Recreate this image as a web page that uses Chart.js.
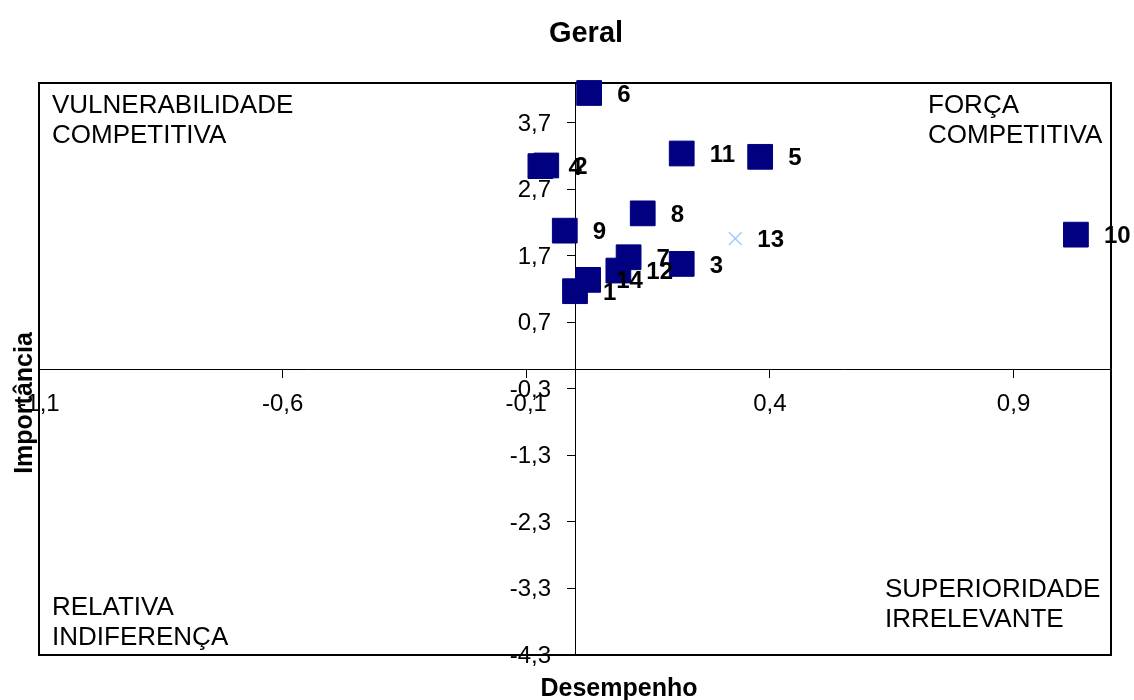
<!DOCTYPE html>
<html>
<head>
<meta charset="utf-8">
<title>Geral</title>
<script src="https://cdn.jsdelivr.net/npm/chart.js@4.4.1/dist/chart.umd.min.js"></script>
<style>
  html, body { margin: 0; padding: 0; background: #fff; }
</style>
</head>
<body>
<canvas id="mapa" width="1134" height="700"></canvas>
<script>
// atributos avaliados: numero, desempenho (eixo x) e importancia (eixo y)
const pontos = ['1', '2', '3', '4', '5', '6', '7', '8', '9', '10', '11', '12', '14'];
const desempenho = [0.00, -0.059, 0.219, -0.071, 0.380, 0.029, 0.110, 0.139, -0.021, 1.028, 0.219, 0.089, 0.027];
const importancia = [1.17, 3.06, 1.58, 3.05, 3.19, 4.15, 1.68, 2.34, 2.08, 2.02, 3.24, 1.48, 1.34];

// o atributo 13 aparece com outro marcador
const pontos13 = ['13'];
const desempenho13 = [0.329];
const importancia13 = [1.96];

const xTicks = [-1.1, -0.6, -0.1, 0.4, 0.9];
const yTicks = [-4.3, -3.3, -2.3, -1.3, -0.3, 0.7, 1.7, 2.7, 3.7];

const quadrantes = {
  topoEsq: ['VULNERABILIDADE', 'COMPETITIVA'],
  topoDir: ['FORÇA', 'COMPETITIVA'],
  baixoEsq: ['RELATIVA', 'INDIFERENÇA'],
  baixoDir: ['SUPERIORIDADE', 'IRRELEVANTE']
};

const FONTE = "'Liberation Sans', Arial, sans-serif";
Chart.defaults.font.family = FONTE;
Chart.defaults.color = '#000';

const virgula = v => Number(v).toFixed(1).replace('.', ',');

// borda da area do grafico (antes dos pontos, o 6 fica por cima)
const borda = {
  id: 'borda',
  beforeDatasetsDraw(chart) {
    const { ctx, chartArea: a } = chart;
    ctx.save();
    ctx.lineWidth = 2;
    ctx.strokeStyle = '#000';
    ctx.strokeRect(a.left, a.top, a.right - a.left, a.bottom - a.top);
    ctx.restore();
  }
};

// numeros ao lado dos pontos, titulos, textos dos quadrantes
// e rotulos do eixo y (o chart.js os cola no eixo quando ele fica no zero)
const textos = {
  id: 'textos',
  afterDatasetsDraw(chart) {
    const { ctx, chartArea: a, scales } = chart;
    ctx.save();

    ctx.fillStyle = '#000';
    ctx.font = 'bold 24px ' + FONTE;
    ctx.textAlign = 'left';
    ctx.textBaseline = 'middle';
    chart.data.datasets.forEach((ds, i) => {
      const meta = chart.getDatasetMeta(i);
      meta.data.forEach((pt, j) => {
        ctx.fillText(ds.rotulos[j], pt.x + ds.distRotulo, pt.y + 2);
      });
    });

    // rotulos do eixo y, a esquerda dos tracos
    const eixoX = scales.x.getPixelForValue(0);
    ctx.font = '24px ' + FONTE;
    ctx.textAlign = 'right';
    yTicks.forEach(v => {
      ctx.fillText(virgula(v), eixoX - 24, scales.y.getPixelForValue(v) + 1);
    });

    ctx.textAlign = 'left';
    ctx.font = '26px ' + FONTE;
    ctx.textBaseline = 'alphabetic';
    const linhas = (txt, x, y) => txt.forEach((t, k) => ctx.fillText(t, x, y + k * 30));
    linhas(quadrantes.topoEsq, a.left + 13, a.top + 30);
    linhas(quadrantes.topoDir, a.right - 183, a.top + 30);
    linhas(quadrantes.baixoEsq, a.left + 13, a.bottom - 40);
    linhas(quadrantes.baixoDir, a.right - 226, a.bottom - 58);

    ctx.textAlign = 'center';
    ctx.font = 'bold 29px ' + FONTE;
    ctx.fillText('Geral', 586, 42);

    ctx.font = 'bold 25px ' + FONTE;
    ctx.fillText('Desempenho', 619, 696);

    ctx.translate(31.5, 403);
    ctx.rotate(-Math.PI / 2);
    ctx.fillText('Importância', 0, 0);
    ctx.restore();
  }
};

const ctx = document.getElementById('mapa').getContext('2d');
new Chart(ctx, {
  type: 'scatter',
  data: {
    datasets: [
      {
        label: 'Atributos',
        data: desempenho.map((x, i) => ({ x: x, y: importancia[i] })),
        rotulos: pontos,
        distRotulo: 28,
        pointStyle: 'rect',
        pointRadius: 17.5,
        backgroundColor: '#000080',
        borderColor: '#000080',
        borderWidth: 1,
        clip: false
      },
      {
        label: 'Atributo 13',
        data: desempenho13.map((x, i) => ({ x: x, y: importancia13[i] })),
        rotulos: pontos13,
        distRotulo: 22,
        pointStyle: 'crossRot',
        pointRadius: 9,
        borderColor: '#99ccff',
        backgroundColor: '#99ccff',
        borderWidth: 1.5,
        clip: false
      }
    ]
  },
  options: {
    responsive: false,
    animation: false,
    devicePixelRatio: 1,
    layout: { padding: { top: 83, left: 39, right: 23, bottom: 45 } },
    plugins: {
      legend: { display: false },
      tooltip: { enabled: false },
      title: { display: false }
    },
    scales: {
      x: {
        type: 'linear',
        min: -1.1,
        max: 1.1,
        position: { y: 0 },
        afterBuildTicks: s => { s.ticks = xTicks.map(v => ({ value: v })); },
        ticks: { font: { size: 24 }, color: '#000', padding: 13, autoSkip: false, maxRotation: 0, callback: virgula },
        grid: { display: true, drawOnChartArea: false, drawTicks: true, tickLength: 8, color: '#000' },
        border: { display: true, color: '#000', width: 1 }
      },
      y: {
        type: 'linear',
        min: -4.3,
        max: 4.3,
        position: { x: 0 },
        afterBuildTicks: s => { s.ticks = yTicks.map(v => ({ value: v })); },
        ticks: { display: false },
        grid: { display: true, drawOnChartArea: false, drawTicks: true, tickLength: 8, color: '#000' },
        border: { display: true, color: '#000', width: 1 }
      }
    }
  },
  plugins: [borda, textos]
});
</script>
</body>
</html>
